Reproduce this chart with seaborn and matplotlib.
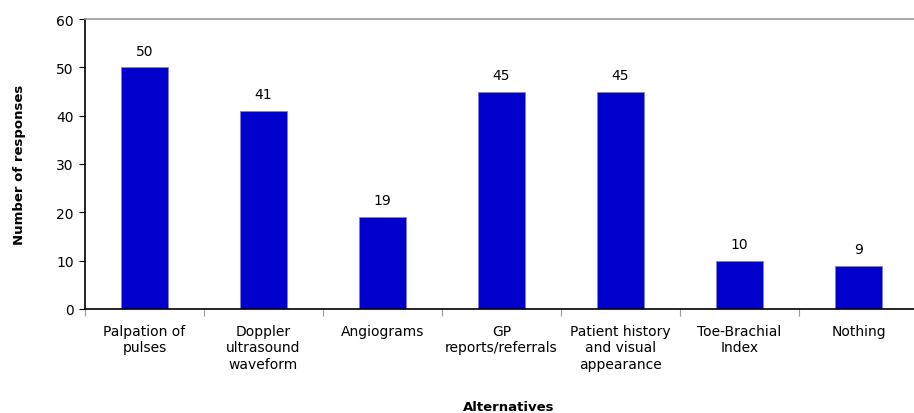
import matplotlib
matplotlib.use("Agg")
import matplotlib.pyplot as plt
import seaborn as sns
import pandas as pd

categories = ["Palpation of\npulses", "Doppler\nultrasound\nwaveform", "Angiograms",
              "GP\nreports/referrals", "Patient history\nand visual\nappearance",
              "Toe-Brachial\nIndex", "Nothing"]
values = [50, 41, 19, 45, 45, 10, 9]
yticks = [0, 10, 20, 30, 40, 50, 60]

sns.set_theme(style="white")
plt.rcParams['font.family'] = ['DejaVu Sans']
plt.rcParams['text.color'] = 'black'
plt.rcParams['xtick.color'] = 'black'
plt.rcParams['ytick.color'] = 'black'
plt.rcParams['axes.labelcolor'] = 'black'

df = pd.DataFrame({"cat": categories, "val": values})

fig = plt.figure(figsize=(9.14, 4.14), dpi=100)
W, H = 914, 414
ax = fig.add_axes([85 / W, 1 - 310 / H, (918 - 85) / W, (310 - 20) / H])

sns.barplot(data=df, x="cat", y="val", color="#0000CC", width=0.4, ax=ax,
            saturation=1, edgecolor="#8080E0", linewidth=0.6)

ax.set_xlim(-0.5, len(categories) - 0.5)
ax.set_ylim(0, 60)
ax.set_yticks(yticks)
ax.tick_params(axis="y", labelsize=10, length=4, width=0.8, direction="out", left=True, pad=4)
ax.set_xticks(range(len(categories)))
ax.set_xticklabels(categories, fontsize=10, linespacing=1.2)
ax.tick_params(axis="x", length=0, pad=11)
ax.set_xticks([i - 0.5 for i in range(len(categories) + 1)], minor=True)
ax.tick_params(axis="x", which="minor", length=5, width=0.8, color="#999999", direction="out", bottom=True)

for s in ["left", "bottom"]:
    ax.spines[s].set_color("black")
    ax.spines[s].set_linewidth(1.2)
ax.spines["top"].set_color("#999999")
ax.spines["top"].set_linewidth(1.2)
ax.spines["right"].set_visible(False)

for i, v in enumerate(values):
    ax.annotate(str(v), (i, v), xytext=(0, 7), textcoords="offset points",
                ha="center", va="bottom", fontsize=10)

ax.set_xlabel("")
ax.set_ylabel("Number of responses", fontsize=9.5, fontweight="bold", labelpad=22)
fig.text(509 / W, 1 - 408 / H, "Alternatives", ha="center", va="center",
         fontsize=9.5, fontweight="bold")

fig.savefig("out.png", dpi=100, facecolor="white")
